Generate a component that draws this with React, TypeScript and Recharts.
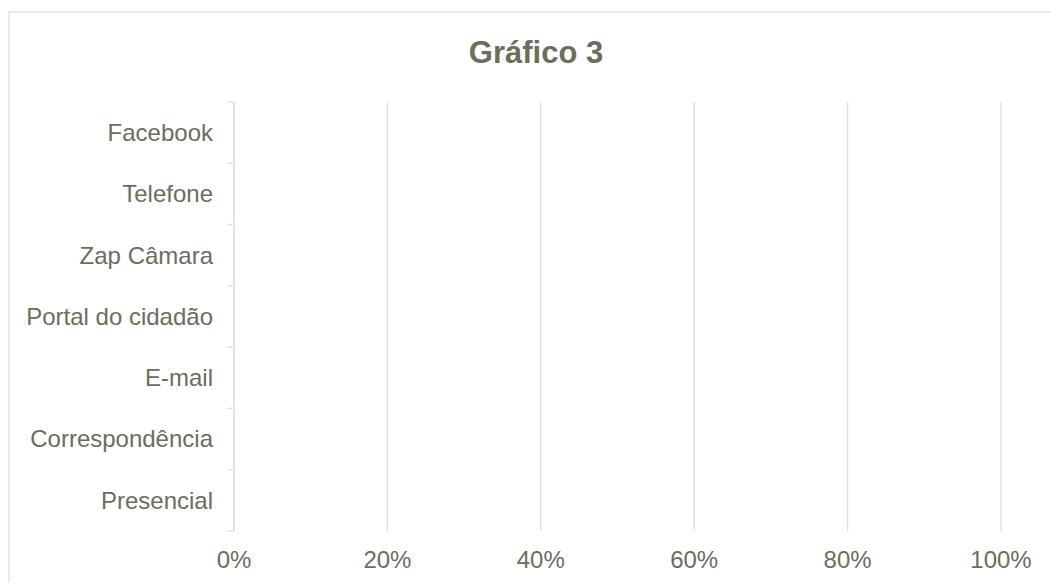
import { BarChart, Bar, XAxis, YAxis, CartesianGrid } from "recharts";

const categories = [
  "Facebook",
  "Telefone",
  "Zap Câmara",
  "Portal do cidadão",
  "E-mail",
  "Correspondência",
  "Presencial",
];
// no bars are drawn in the reference
const values = [0, 0, 0, 0, 0, 0, 0];
const xTicks = [0, 20, 40, 60, 80, 100];

const data = categories.map((name, i) => ({ name, value: values[i] }));

const TEXT = "#6b6e5a";
const GRID = "#e3e3de";
const FONT = "'Liberation Sans', Arial, sans-serif";

function CategoryTick(props: any) {
  const { x, y, payload, index, visibleTicksCount } = props;
  const half = payload.offset ?? 30.65;
  const last = index === (visibleTicksCount ?? categories.length) - 1;
  return (
    <g>
      <text
        x={x - 21}
        y={y}
        dy="0.35em"
        textAnchor="end"
        fill={TEXT}
        fontSize={24}
        fontFamily={FONT}
      >
        {payload.value}
      </text>
      <line x1={x - 7} x2={x} y1={y - half} y2={y - half} stroke={GRID} strokeWidth={1.5} />
      {last && (
        <line x1={x - 7} x2={x} y1={y + half} y2={y + half} stroke={GRID} strokeWidth={1.5} />
      )}
    </g>
  );
}

export default function App() {
  return (
    <div
      style={{
        position: "absolute",
        left: 0,
        top: 0,
        width: 1051,
        height: 583,
        overflow: "hidden",
        background: "#fff",
      }}
    >
      <BarChart
        width={1051}
        height={583}
        data={data}
        layout="vertical"
        margin={{ top: 102, right: 50, bottom: 12, left: 0 }}
      >
        <CartesianGrid horizontal={false} stroke={GRID} strokeWidth={1.5} />
        <XAxis
          type="number"
          domain={[0, 100]}
          ticks={xTicks}
          tickFormatter={(v) => `${v}%`}
          axisLine={false}
          tickLine={false}
          tickMargin={14}
          height={40}
          tick={{ fill: TEXT, fontSize: 24, fontFamily: FONT }}
        />
        <YAxis
          type="category"
          dataKey="name"
          width={234}
          axisLine={{ stroke: GRID, strokeWidth: 1.5 }}
          tickLine={false}
          tickSize={0}
          tickMargin={0}
          interval={0}
          tick={<CategoryTick />}
        />
        <Bar dataKey="value" fill="#8a8c6e" isAnimationActive={false} />
      </BarChart>
      <svg
        width={1051}
        height={583}
        style={{ position: "absolute", left: 0, top: 0, pointerEvents: "none" }}
      >
        <rect x={9} y={12} width={1070} height={590} fill="none" stroke={GRID} strokeWidth={1.5} />
        <text
          x={536}
          y={63}
          textAnchor="middle"
          fill={TEXT}
          fontSize={31}
          fontWeight="bold"
          fontFamily={FONT}
        >
          Gráfico 3
        </text>
      </svg>
    </div>
  );
}
